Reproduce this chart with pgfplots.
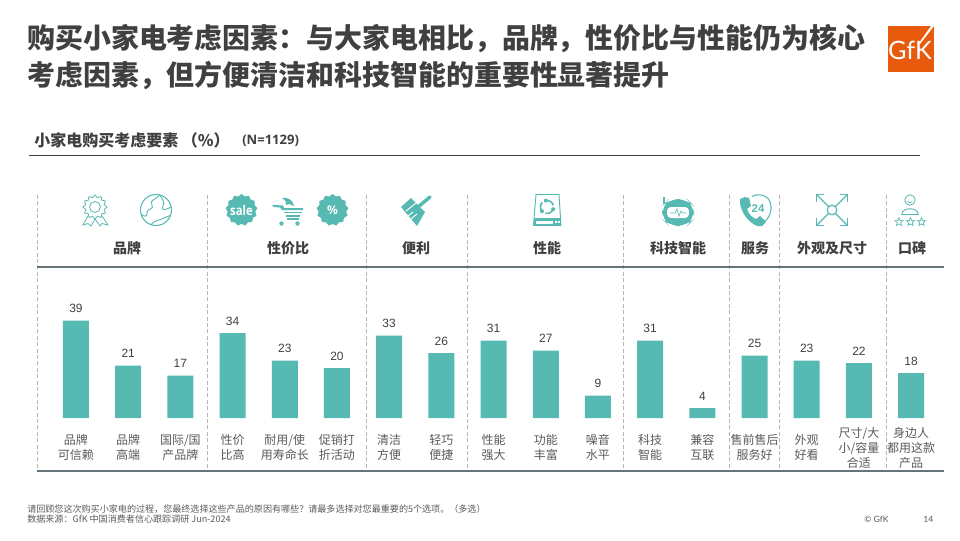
\documentclass[border=0pt]{standalone}
\usepackage{fontspec}
\usepackage{pgfplots}
\pgfplotsset{compat=1.18}
\usetikzlibrary{shapes.geometric,arrows.meta}
\setmainfont{Liberation Sans}
\newfontfamily\cjk{Noto Sans CJK SC}
\newfontfamily\ops{Open Sans}
\definecolor{tealc}{HTML}{56B9B2}
\definecolor{txtc}{HTML}{404040}
\definecolor{labc}{HTML}{5A5A5A}
\definecolor{rulec}{HTML}{667378}
\definecolor{sepc}{HTML}{B5B5B5}
\definecolor{gfkc}{HTML}{E95B0C}
\pgfplotstableread{
x y
0 39
1 21
2 17
3 34
4 23
5 20
6 33
7 26
8 31
9 27
10 9
11 31
12 4
13 25
14 23
15 22
16 18
}\shares
\begin{document}
\begin{tikzpicture}[x=0.75pt,y=-0.75pt]
\path[use as bounding box] (0,0) rectangle (960,540);
% titles
\node[anchor=west,inner sep=0,text=txtc,font=\cjk\bfseries\fontsize{20.95}{24}\selectfont] at (27,39) {购买小家电考虑因素：与大家电相比，品牌，性价比与性能仍为核心};
\node[anchor=west,inner sep=0,text=txtc,font=\cjk\bfseries\fontsize{20.95}{24}\selectfont] at (27,75) {考虑因素，但方便清洁和科技智能的重要性显著提升};
\node[anchor=west,inner sep=0,text=txtc,font=\cjk\bfseries\fontsize{12}{14}\selectfont] at (34,140) {小家电购买考虑要素 （\%）};
\node[anchor=west,inner sep=0,text=txtc,font=\ops\bfseries\fontsize{9.8}{11}\selectfont] at (242,141) {(N=1129)};
\draw[txtc,line width=0.6pt] (29,155) -- (920,155);
% logo
\fill[gfkc] (888,26) rectangle (934,72);
\node[text=white,inner sep=0,font=\fontspec{Lato}\fontsize{19}{20}\selectfont] at (910,50) {GfK};
\fill[white] (934,26) -- (931,26) -- (919,43) -- (920,44) -- cycle;
% dashed separators
\foreach \x in {37,207,366,467,623,729,779,886}
  \draw[sepc,line width=0.6pt,dash pattern=on 3pt off 1.8pt] (\x,195) -- (\x,470);
% rules
\draw[rulec,line width=1.5pt] (37,267) -- (944,267);
\draw[rulec,line width=1.5pt] (37,471) -- (944,471);
% group names
\foreach \x/\t in {127/品牌,288/性价比,416/便利,547/性能,678/科技智能,755/服务,832/外观及尺寸,912/口碑}
  \node[text=txtc,inner sep=0,font=\cjk\bfseries\fontsize{10.5}{12}\selectfont] at (\x,248) {\t};
% chart
\begin{axis}[
  at={(27.75pt,-313.5pt)},anchor=south west,scale only axis,
  width=680.25pt,height=75pt,
  xmin=-0.747,xmax=16.63,ymin=0,ymax=40,
  axis line style={draw=none},tick style={draw=none},
  ytick=\empty,
  xtick={0,...,16},
  xticklabels={{品牌\\可信赖},{品牌\\高端},{国际/国\\产品牌},{性价\\比高},{耐用/使\\用寿命长},{促销打\\折活动},{清洁\\方便},{轻巧\\便捷},{性能\\强大},{功能\\丰富},{噪音\\水平},{科技\\智能},{兼容\\互联},{售前售后\\服务好},{外观\\好看},{尺寸/大\\小/容量\\合适},{身边人\\都用这款\\产品}},
  xticklabel style={align=center,anchor=center,yshift=-18pt,text=labc,inner sep=0,
    font=\cjk\fontsize{9}{11.3}\selectfont},
  xtick pos=bottom,
  clip=false,
  ybar,bar width=19.5pt,
  nodes near coords,
  nodes near coords style={/pgf/number format/assume math mode=true,font=\fontsize{9}{10}\selectfont,text=txtc,inner sep=0,yshift=5.5pt},
]
\addplot[fill=tealc,draw=none] table[x=x,y=y] {\shares};
\end{axis}
% icons
% rosette
\node[star,star points=12,star point ratio=1.25,draw=tealc,line width=0.6pt,fill=white,minimum size=18pt,inner sep=0] at (95,207) {};
\draw[tealc,line width=0.6pt] (95,207) circle (5.5);
\draw[tealc,line width=0.6pt] (88,216) -- (83,225) -- (88,223.5) -- (91,226) -- (95,219);
\draw[tealc,line width=0.6pt] (102,216) -- (108,225) -- (102,223.5) -- (100,226) -- (95,219);
% globe
\draw[tealc,line width=0.8pt] (156,210) circle (15.5);
\draw[tealc,line width=0.7pt] (160,195) .. controls (153,201) and (150,200) .. (152,205) .. controls (155,210) and (146,208) .. (147,213) .. controls (148,218) and (143,216) .. (141,214);
\draw[tealc,line width=0.7pt] (160,195) .. controls (163,200) and (165,203) .. (163,206) .. controls (160,212) and (168,209) .. (171,207);
\draw[tealc,line width=0.7pt] (151,225) .. controls (155,219) and (160,221) .. (164,218) .. controls (167,216) and (169,217) .. (171,215);
% sale badge
\node[star,star points=13,star point ratio=1.15,fill=tealc,minimum size=24pt,inner sep=0] at (241.5,210) {};
\node[text=white,inner sep=0,font=\ops\bfseries\fontsize{10}{11}\selectfont,xscale=0.85] at (241.5,210) {sale};
% cart
\fill[tealc] (272,205) -- (283,205.5) -- (284,208) -- (303,208) -- (303,210) -- (282,210) -- (280,207.5) -- (274,207) -- cycle;
\draw[tealc,line width=1.1pt] (284,212.5) -- (302,212.5);
\draw[tealc,line width=1.1pt] (286,216) -- (300,216);
\draw[tealc,line width=1.1pt] (287,219) -- (299,219);
\fill[tealc] (282,198) .. controls (288,197) and (293,200) .. (294,206) -- (289,204) -- (286,205) .. controls (287,202) and (285,200) .. (282,198) -- cycle;
\fill[tealc] (281.5,223.5) circle (2.2);
\fill[tealc] (297.5,223.5) circle (2.2);
% percent badge
\node[star,star points=13,star point ratio=1.15,fill=tealc,minimum size=24pt,inner sep=0] at (332.5,210) {};
\node[text=white,inner sep=0,font=\ops\bfseries\fontsize{9}{10}\selectfont] at (332.5,210) {\%};
% brush
\fill[tealc] (401,207) -- (411,198) -- (425,212) -- (417,226) -- cycle;
\draw[tealc,line width=2.6pt,line cap=round] (418,207) -- (430,197);
\draw[white,line width=0.7pt] (406,211) -- (416,203);
\draw[white,line width=0.7pt] (408,216) -- (413,212) (411,219) -- (417,214);
% disk
\draw[tealc,line width=0.7pt] (536,194.5) -- (559,194.5) -- (561,225.5) -- (533.5,225.5) -- cycle;
\fill[tealc] (533.5,218) rectangle (561,226);
\fill[white] (536,220.5) rectangle (553,224);
\fill[white] (555,220.5) rectangle (556.5,222.5);
\fill[white] (558,220.5) rectangle (559.5,222.5);
\foreach \a in {20,140,260}{
  \draw[tealc,line width=1.2pt] (547,207) ++(\a:6.5) arc (\a:\a+85:6.5);
  \fill[tealc] (547,207) ++(\a:6.5) circle (2);
}
% robot
\draw[tealc,line width=1.1pt] (664,197) -- (664,204);
\fill[tealc,rounded corners=8pt] (662,206) -- (669,199) -- (687,199) -- (694,206) -- (694,219) -- (687,226) -- (669,226) -- (662,219) -- cycle;
\fill[white,rounded corners=3pt] (667,207) rectangle (689,218);
\draw[tealc,line width=0.5pt] (670,213) -- (675,213) -- (677,209) -- (679,216) -- (681,211) -- (683,213) -- (686,213);
% phone
\draw[tealc,line width=0.8pt] (752,196.5) .. controls (760,192) and (774,196) .. (770.5,212) .. controls (769,218) and (766,221) .. (763,222);
\node[text=tealc,inner sep=0,font=\bfseries\fontsize{8.5}{9}\selectfont] at (758,208.5) {24};
\fill[tealc] (740,199) -- (745,197) -- (749,198) -- (751,206) -- (747,209) .. controls (749,215) and (752,217) .. (756,219) -- (760,216) -- (766,222) -- (762,226) -- (757,226) .. controls (748,222) and (741,212) .. (740,203) -- cycle;
% arrows
\draw[tealc,line width=0.9pt] (832,210) circle (4.8);
\foreach \a/\b/\c/\d in {828.5/206.5/817/195,835.5/206.5/847/195,828.5/213.5/817/225,835.5/213.5/847/225}
  \draw[tealc,line width=0.9pt] (\a,\b) -- (\c,\d);
\draw[tealc,line width=1pt] (816.5,202) -- (816.5,194.5) -- (824,194.5);
\draw[tealc,line width=1pt] (840,194.5) -- (847.5,194.5) -- (847.5,202);
\draw[tealc,line width=1pt] (816.5,218) -- (816.5,225.5) -- (824,225.5);
\draw[tealc,line width=1pt] (840,225.5) -- (847.5,225.5) -- (847.5,218);
% person
\draw[tealc,line width=0.6pt] (910,200) circle (5.2);
\draw[tealc,line width=0.5pt] (907.5,201.5) .. controls (909,203) and (911,203) .. (912.5,201.5);
\draw[tealc,line width=0.7pt] (902,214) .. controls (902,207) and (918,207) .. (918,214);
\draw[tealc,line width=0.7pt] (901,214.5) -- (919,214.5);
\foreach \x in {899,910.5,921.5}
  \node[star,star points=5,star point ratio=2.3,draw=tealc,line width=0.5pt,minimum size=6.5pt,inner sep=0] at (\x,222) {};
% footer
\node[anchor=west,inner sep=0,text=labc,font=\cjk\fontsize{6.8}{8}\selectfont] at (27,509) {请回顾您这次购买小家电的过程，您最终选择这些产品的原因有哪些？请最多选择对您最重要的5个选项。（多选）};
\node[anchor=west,inner sep=0,text=labc,font=\cjk\fontsize{6.8}{8}\selectfont] at (27,519) {数据来源：GfK 中国消费者信心跟踪调研 Jun-2024};
\node[anchor=west,inner sep=0,text=labc,font=\fontspec{Lato}\fontsize{6.5}{8}\selectfont] at (864,519.5) {© GfK};
\node[anchor=west,inner sep=0,text=labc,font=\fontspec{Lato}\fontsize{6.5}{8}\selectfont] at (923,519.5) {14};
\end{tikzpicture}
\end{document}
